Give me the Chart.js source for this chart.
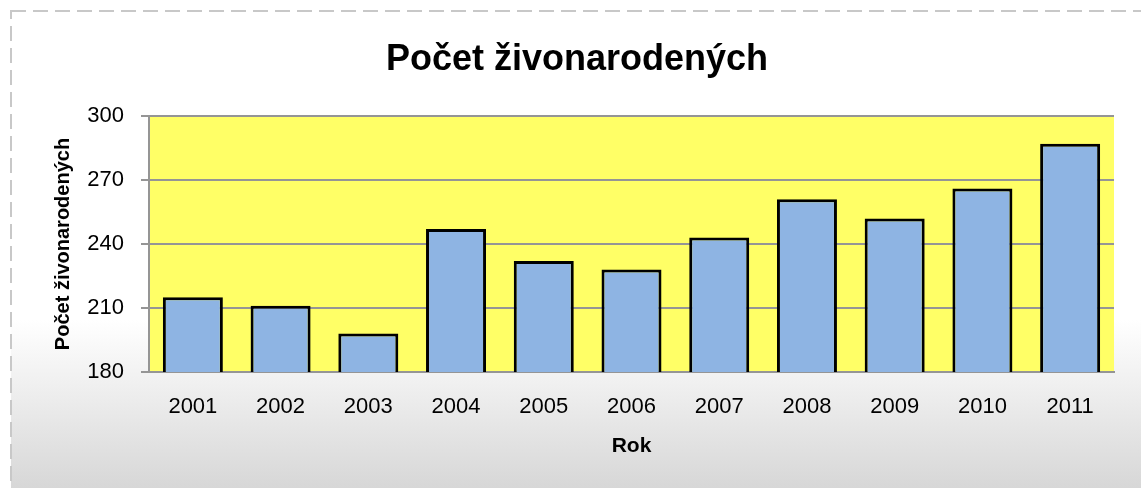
<!DOCTYPE html>
<html lang="sk">
<head>
<meta charset="utf-8">
<title>Počet živonarodených</title>
<script src="https://cdn.jsdelivr.net/npm/chart.js@4.4.0/dist/chart.umd.min.js"></script>
<style>
  html, body { margin: 0; padding: 0; background: #fff; }
  #wrap { width: 1141px; height: 488px; }
</style>
</head>
<body>
<div id="wrap"><canvas id="barChart" width="1141" height="488"></canvas></div>
<script>
// Údaje z grafu
const roky = ['2001', '2002', '2003', '2004', '2005', '2006', '2007', '2008', '2009', '2010', '2011'];
const pocty = [215, 211, 198, 247, 232, 228, 243, 261, 252, 266, 287];
const tickyY = [180, 210, 240, 270, 300];

const pismo = "'Liberation Sans', Arial, sans-serif";

// pozadie, prerušovaný rámik a žltá plocha grafu
const pozadie = {
    id: 'pozadie',
    beforeDraw(chart) {
        const ctx = chart.ctx;
        const a = chart.chartArea;
        const w = chart.width, h = chart.height;
        ctx.save();
        ctx.fillStyle = '#ffffff';
        ctx.fillRect(0, 0, w, h);
        const g = ctx.createLinearGradient(0, 320, 0, h);
        g.addColorStop(0, '#ffffff');
        g.addColorStop(1, '#d7d7d7');
        ctx.fillStyle = g;
        ctx.fillRect(11, 11, w, h);
        ctx.setLineDash([15, 7]);
        ctx.strokeStyle = '#c8c8c8';
        ctx.lineWidth = 2;
        ctx.strokeRect(11, 11, w + 40, h + 40);
        ctx.setLineDash([]);
        ctx.fillStyle = '#ffff66';
        ctx.fillRect(a.left, a.top, a.right - a.left, a.bottom - a.top);
        ctx.restore();
    }
};

function initChart() {
    const ctx = document.getElementById('barChart').getContext('2d');
    new Chart(ctx, {
        type: 'bar',
        data: {
            labels: roky,
            datasets: [{
                label: 'Počet živonarodených',
                data: pocty,
                backgroundColor: '#8eb4e3',
                borderColor: '#000000',
                borderWidth: 3,
                barPercentage: 0.684,
                categoryPercentage: 1
            }]
        },
        options: {
            responsive: false,
            animation: false,
            devicePixelRatio: 1,
            layout: { padding: { left: 40, right: 27, top: 0, bottom: 0 } },
            plugins: {
                legend: { display: false },
                tooltip: { enabled: false },
                title: {
                    display: true,
                    text: 'Počet živonarodených',
                    color: '#000',
                    font: { family: pismo, size: 36, weight: 'bold' },
                    padding: { top: 38.4, bottom: 34.4 }
                }
            },
            scales: {
                y: {
                    min: tickyY[0],
                    max: tickyY[tickyY.length - 1],
                    afterBuildTicks: s => { s.ticks = tickyY.map(v => ({ value: v })); },
                    afterFit: s => { s.width = 109; },
                    ticks: {
                        color: '#000',
                        font: { family: pismo, size: 22 },
                        padding: 17
                    },
                    grid: { color: '#959595', lineWidth: 2, tickLength: 8 },
                    border: { color: '#959595', width: 2 },
                    title: {
                        display: true,
                        text: 'Počet živonarodených',
                        color: '#000',
                        font: { family: pismo, size: 20, weight: 'bold' },
                        padding: { top: 11, bottom: 0 }
                    }
                },
                x: {
                    afterFit: s => { s.height = 116; },
                    grid: { display: false },
                    border: { display: true, color: '#959595', width: 2 },
                    ticks: {
                        color: '#000',
                        font: { family: pismo, size: 22 },
                        padding: 14
                    },
                    title: {
                        display: true,
                        text: 'Rok',
                        color: '#000',
                        font: { family: pismo, size: 21, weight: 'bold' },
                        padding: { top: 0, bottom: 29 }
                    }
                }
            }
        },
        plugins: [pozadie]
    });
}

document.addEventListener('DOMContentLoaded', function () {
    initChart();
});
</script>
</body>
</html>
